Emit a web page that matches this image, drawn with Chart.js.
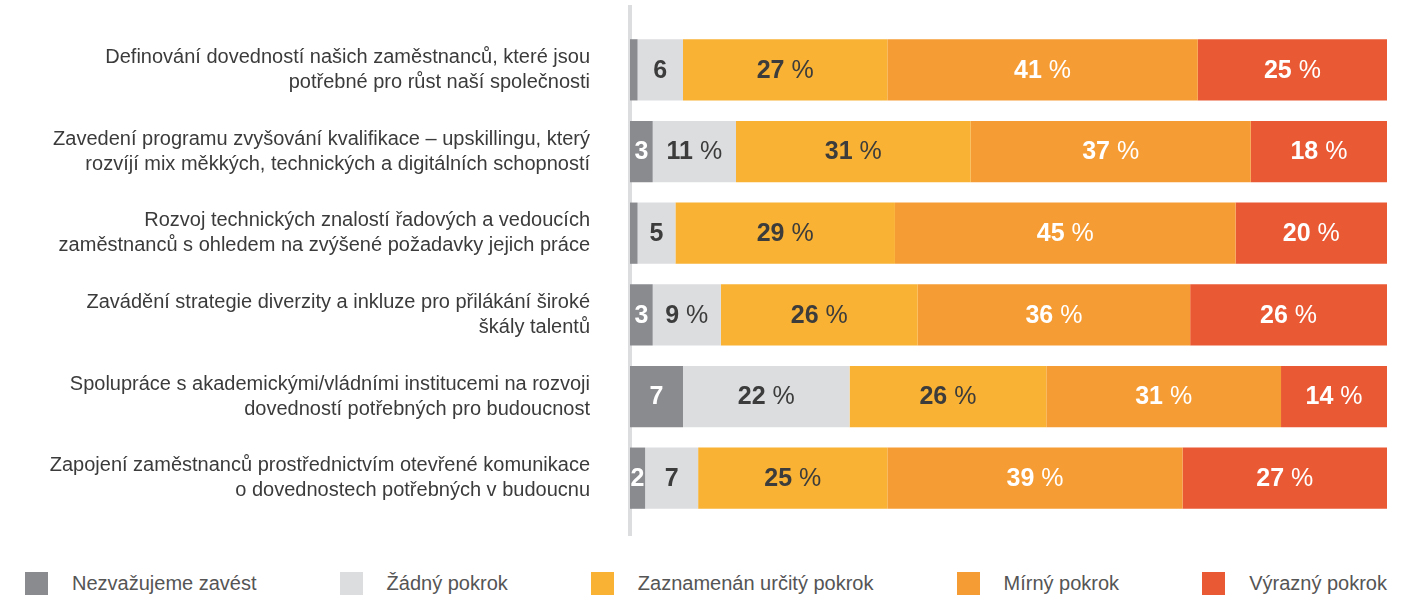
<!DOCTYPE html>
<html lang="cs">
<head>
<meta charset="utf-8">
<script src="https://cdn.jsdelivr.net/npm/chart.js@4/dist/chart.umd.min.js"></script>
<style>
  html, body { margin: 0; padding: 0; background: #fff; }
  #wrap { position: relative; width: 1420px; height: 602px; }
  #chartBox { position: absolute; left: 0; top: 0; width: 1420px; height: 555px; }
  #legend {
    position: absolute; left: 25px; right: 33px; top: 572px;
    display: flex; justify-content: space-between; align-items: center;
    font-family: "Liberation Sans", Arial, sans-serif; font-size: 20px; color: #555;
  }
  #legend .item { display: flex; align-items: center; }
  #legend .box { width: 23px; height: 23px; margin-right: 24px; }
</style>
</head>
<body>
<div id="wrap">
  <div id="chartBox"><canvas id="progressChart"></canvas></div>
  <div id="legend"></div>
</div>
<script>
const categories = [
  ["Definování dovedností našich zaměstnanců, které jsou", "potřebné pro růst naší společnosti"],
  ["Zavedení programu zvyšování kvalifikace – upskillingu, který", "rozvíjí mix měkkých, technických a digitálních schopností"],
  ["Rozvoj technických znalostí řadových a vedoucích", "zaměstnanců s ohledem na zvýšené požadavky jejich práce"],
  ["Zavádění strategie diverzity a inkluze pro přilákání široké", "škály talentů"],
  ["Spolupráce s akademickými/vládními institucemi na rozvoji", "dovedností potřebných pro budoucnost"],
  ["Zapojení zaměstnanců prostřednictvím otevřené komunikace", "o dovednostech potřebných v budoucnu"]
];

const seriesNames = ["Nezvažujeme zavést", "Žádný pokrok", "Zaznamenán určitý pokrok", "Mírný pokrok", "Výrazný pokrok"];
const nezvazujeme = [1, 3, 1, 3, 7, 2];
const zadnyPokrok = [6, 11, 5, 9, 22, 7];
const urcityPokrok = [27, 31, 29, 26, 26, 25];
const mirnyPokrok = [41, 37, 45, 36, 31, 39];
const vyraznyPokrok = [25, 18, 20, 26, 14, 27];

const colors = ["#8a8b8f", "#dcdddf", "#f9b233", "#f69c35", "#e95a34"];
const labelColors = ["#ffffff", "#3c3c3c", "#3c3c3c", "#ffffff", "#ffffff"];
const FONT = "'Liberation Sans', Arial, sans-serif";

// svislá osa vlevo od pruhů
const axisLine = {
  id: "axisLine",
  beforeDatasetsDraw(chart) {
    const { ctx, chartArea } = chart;
    ctx.save();
    ctx.fillStyle = "#dcdddf";
    ctx.fillRect(chartArea.left - 2, chartArea.top - 24, 4, chartArea.bottom - chartArea.top + 41);
    ctx.restore();
  }
};

// popisky hodnot uvnitř pruhů
const valueLabels = {
  id: "valueLabels",
  afterDatasetsDraw(chart) {
    const { ctx } = chart;
    ctx.save();
    ctx.textBaseline = "middle";
    chart.data.datasets.forEach((ds, di) => {
      const meta = chart.getDatasetMeta(di);
      meta.data.forEach((bar, i) => {
        const v = ds.data[i];
        if (v < 2) return;
        const num = String(v);
        const pct = v >= 8 ? " %" : "";
        ctx.font = "bold 25px " + FONT;
        const w1 = ctx.measureText(num).width;
        ctx.font = "25px " + FONT;
        const w2 = pct ? ctx.measureText(pct).width : 0;
        const cx = (bar.x + bar.base) / 2;
        const x = cx - (w1 + w2) / 2;
        ctx.fillStyle = labelColors[di];
        ctx.textAlign = "left";
        ctx.font = "bold 25px " + FONT;
        ctx.fillText(num, x, bar.y + 1);
        if (pct) {
          ctx.font = "25px " + FONT;
          ctx.fillText(pct, x + w1, bar.y + 1);
        }
      });
    });
    ctx.restore();
  }
};

function buildLegend() {
  const el = document.getElementById("legend");
  seriesNames.forEach((name, i) => {
    const item = document.createElement("div");
    item.className = "item";
    item.innerHTML = '<span class="box" style="background:' + colors[i] + '"></span><span>' + name + "</span>";
    el.appendChild(item);
  });
}

function renderChart() {
  const ctx = document.getElementById("progressChart").getContext("2d");
  const values = [nezvazujeme, zadnyPokrok, urcityPokrok, mirnyPokrok, vyraznyPokrok];

  new Chart(ctx, {
    type: "bar",
    data: {
      labels: categories,
      datasets: seriesNames.map((name, i) => ({
        label: name,
        data: values[i],
        backgroundColor: colors[i],
        borderWidth: 0,
        categoryPercentage: 0.75,
        barPercentage: 1
      }))
    },
    options: {
      indexAxis: "y",
      responsive: true,
      maintainAspectRatio: false,
      animation: false,
      layout: { padding: { top: 29, bottom: 36, left: 0, right: 33 } },
      plugins: {
        legend: { display: false },
        tooltip: { enabled: false }
      },
      scales: {
        x: {
          stacked: true,
          min: 0,
          max: 100,
          display: false
        },
        y: {
          stacked: true,
          grid: { display: false, drawTicks: false },
          border: { display: false },
          ticks: {
            padding: 40,
            color: "#3b3b3b",
            font: { family: FONT, size: 20, lineHeight: 1.25 }
          },
          afterFit(scale) {
            scale.width = 630;
            scale.paddingTop = 0;
            scale.paddingBottom = 0;
          }
        }
      }
    },
    plugins: [axisLine, valueLabels]
  });
}

buildLegend();
renderChart();
</script>
</body>
</html>
